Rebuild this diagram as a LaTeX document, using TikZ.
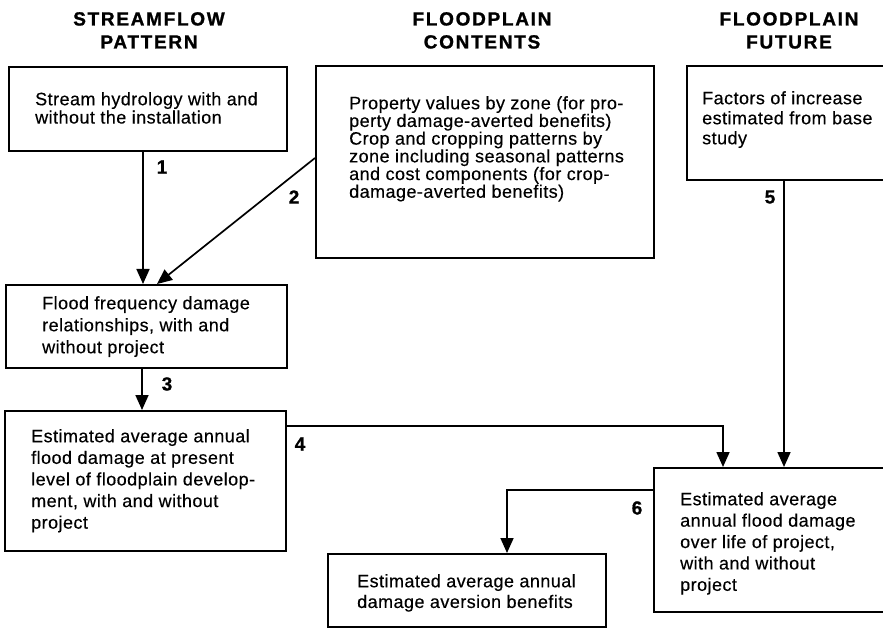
\documentclass[tikz,border=0pt]{standalone}
\usepackage{fontspec}
\setmainfont{Liberation Sans}[LetterSpace=2.5, FakeBold=0.3]
\newfontfamily\hdrfont{Liberation Sans}[LetterSpace=9, FakeBold=1.2]
\newfontfamily\numfont{Liberation Sans}[FakeBold=0.8]
\usetikzlibrary{arrows.meta}
\tikzset{
  boxshape/.style={draw, line width=1.8pt, inner sep=0pt, anchor=north west},
  boxtext/.style={inner sep=0pt, anchor=north west, align=left},
  header/.style={inner sep=0pt, anchor=north, align=center, font=\hdrfont\bfseries\fontsize{19}{23}\selectfont},
  numlabel/.style={inner sep=0pt, font=\numfont\bfseries\fontsize{19}{20}\selectfont},
  arr/.style={line width=1.7pt, -{Triangle[width=13pt,length=15pt]}},
}
\begin{document}
\begin{tikzpicture}[x=1pt,y=-1pt]
\useasboundingbox (0,0) rectangle (883,628);
\clip (0,0) rectangle (883,628);
\fill[white] (0,0) rectangle (883,628);

% headers
\node[header] (h1) at (149,12) {STREAMFLOW\\PATTERN};
\node[header] (h2) at (482,12) {FLOODPLAIN\\CONTENTS};
\node[header] (h3) at (789,12) {FLOODPLAIN\\FUTURE};

% boxes
\node[boxshape, minimum width=278pt, minimum height=84pt] (b1) at (8,66) {};
\node[boxshape, minimum width=338pt, minimum height=192pt] (b2) at (315,65) {};
\node[boxshape, minimum width=220pt, minimum height=114pt] (b3) at (686,65) {};
\node[boxshape, minimum width=281pt, minimum height=83pt] (b4) at (5,284) {};
\node[boxshape, minimum width=281pt, minimum height=140pt] (b5) at (4,410) {};
\node[boxshape, minimum width=260pt, minimum height=144pt] (b6) at (653,467) {};
\node[boxshape, minimum width=278pt, minimum height=73pt] (b7) at (327,553) {};

% box texts
\node[boxtext, font=\fontsize{18}{18.3}\selectfont] (t1) at (35,92)
  {Stream hydrology with and\\without the installation};
\node[boxtext, font=\fontsize{18}{17.7}\selectfont] (t2) at (349,96)
  {Property values by zone (for pro-\\perty damage-averted benefits)\\Crop and cropping patterns by\\zone including seasonal patterns\\and cost components (for crop-\\damage-averted benefits)};
\node[boxtext, font=\fontsize{18}{20}\selectfont] (t3) at (702,91)
  {Factors of increase\\estimated from base\\study};
\node[boxtext, font=\fontsize{18}{22}\selectfont] (t4) at (42,296)
  {Flood frequency damage\\relationships, with and\\without project};
\node[boxtext, font=\fontsize{18}{21.6}\selectfont] (t5) at (31,429)
  {Estimated average annual\\flood damage at present\\level of floodplain develop-\\ment, with and without\\project};
\node[boxtext, font=\fontsize{18}{21.4}\selectfont] (t6) at (680,492)
  {Estimated average\\annual flood damage\\over life of project,\\with and without\\project};
\node[boxtext, font=\fontsize{18}{20.7}\selectfont] (t7) at (357,574)
  {Estimated average annual\\damage aversion benefits};

% connectors
\draw[arr] (b1.south -| 143,0) -- (b4.north -| 143,0);
\draw[arr] (b2.west |- 0,158) -- (b4.north -| 157,0);
\draw[arr] (b4.south -| 142,0) -- (b5.north -| 142,0);
\draw[arr] (b5.east |- 0,426) -| (b6.north -| 723,0);
\draw[arr] (b3.south -| 784,0) -- (b6.north -| 784,0);
\draw[arr] (b6.west |- 0,490) -| (b7.north -| 507,0);

% connector numbers
\node[numlabel] (n1) at (162,167) {1};
\node[numlabel] (n2) at (294,197) {2};
\node[numlabel] (n3) at (167,384) {3};
\node[numlabel] (n4) at (300,444) {4};
\node[numlabel] (n5) at (770,197) {5};
\node[numlabel] (n6) at (637,508) {6};
\end{tikzpicture}
\end{document}
